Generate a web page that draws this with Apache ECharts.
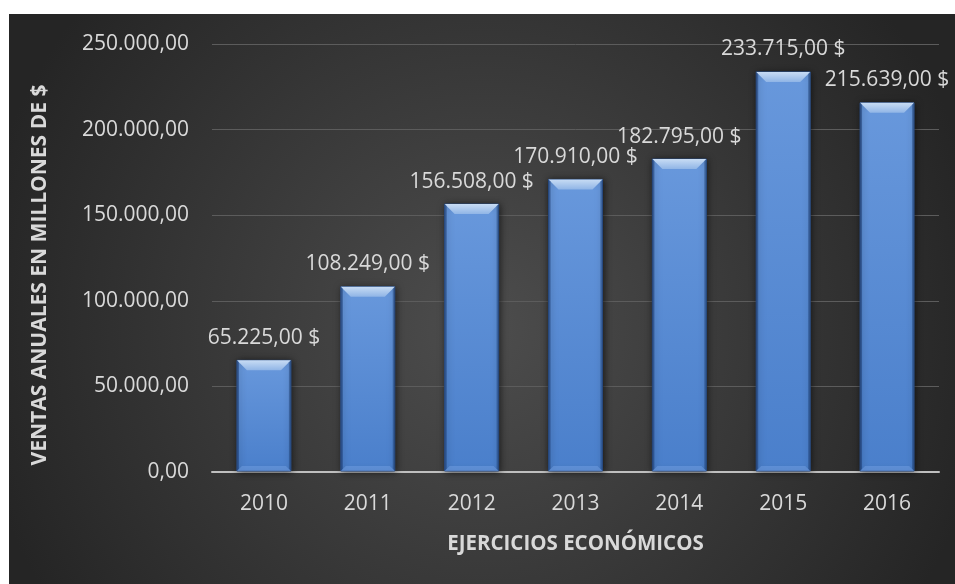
<!DOCTYPE html>
<html>
<head>
<meta charset="utf-8">
<script src="https://cdn.jsdelivr.net/npm/echarts@6/dist/echarts.min.js"></script>
<style>
  html, body { margin: 0; padding: 0; background: #ffffff; }
  #chart { width: 955px; height: 584px; }
</style>
</head>
<body>
<div id="chart"></div>
<script>
// Annual sales by fiscal year (millions of $)
const years = ['2010', '2011', '2012', '2013', '2014', '2015', '2016'];
const sales = [65225, 108249, 156508, 170910, 182795, 233715, 215639];
const yTicks = [0, 50000, 100000, 150000, 200000, 250000];

const FONT = '"Open Sans", sans-serif';
const TEXT = '#d9d9d9';

// Spanish number format: 233715 -> "233.715,00"
function fmtEs(v) {
  const s = Math.round(v).toString().replace(/\B(?=(\d{3})+(?!\d))/g, '.');
  return s + ',00';
}

const chart = echarts.init(document.getElementById('chart'), null, { renderer: 'canvas' });

// Bevelled column with its value label above
function renderBevelBar(params, api) {
  const cat = api.value(0);
  const val = api.value(1);
  const top = api.coord([cat, val]);
  const base = api.coord([cat, 0]);
  const w = api.size([1, 0])[0] * 0.52;
  const l = top[0] - w / 2, r = top[0] + w / 2;
  const t = top[1], b = base[1] - 1;
  const bv = 10;  // top bevel depth
  const sv = 2;   // side bevel
  const bb = 5;   // bottom bevel
  return {
    type: 'group',
    children: [
      {
        type: 'rect',
        shape: { x: l, y: t, width: w, height: b - t },
        style: {
          fill: new echarts.graphic.LinearGradient(0, 0, 0, 1, [
            { offset: 0, color: '#6898dc' },
            { offset: 1, color: '#4a7fcb' }
          ]),
          stroke: '#2c4f86', lineWidth: 1,
          shadowBlur: 7, shadowColor: 'rgba(0,0,0,0.6)', shadowOffsetX: 1, shadowOffsetY: 1
        }
      },
      {
        // lighter top facet
        type: 'polygon',
        shape: { points: [[l, t], [r, t], [r - bv, t + bv], [l + bv, t + bv]] },
        style: {
          fill: new echarts.graphic.LinearGradient(0, 0, 0, 1, [
            { offset: 0, color: '#c8dcf4' },
            { offset: 1, color: '#90b5e6' }
          ])
        }
      },
      {
        // left facet
        type: 'polygon',
        shape: { points: [[l, t], [l + sv, t + sv], [l + sv, b - sv], [l, b]] },
        style: { fill: 'rgba(25,55,105,0.55)' }
      },
      {
        // right facet
        type: 'polygon',
        shape: { points: [[r, t], [r - sv, t + sv], [r - sv, b - sv], [r, b]] },
        style: { fill: 'rgba(25,55,105,0.45)' }
      },
      {
        // bottom facet
        type: 'polygon',
        shape: { points: [[l, b], [r, b], [r - bb, b - bb], [l + bb, b - bb]] },
        style: { fill: 'rgba(120,165,230,0.45)' }
      },
      {
        type: 'text',
        style: {
          x: top[0], y: t - 12,
          text: fmtEs(val) + ' $',
          fill: TEXT, font: '21px ' + FONT,
          textAlign: 'center', textVerticalAlign: 'bottom'
        }
      }
    ]
  };
}

chart.setOption({
  backgroundColor: '#ffffff',
  animation: false,
  graphic: [
    {
      type: 'rect',
      left: 9, top: 14, z: -10,
      shape: { width: 946, height: 570 },
      style: {
        fill: new echarts.graphic.RadialGradient(0.5, 0.55, 0.9, [
          { offset: 0, color: '#4d4d4d' },
          { offset: 1, color: '#252525' }
        ])
      }
    },
    {
      type: 'text',
      x: 40, y: 275, rotation: Math.PI / 2,
      style: {
        text: 'VENTAS ANUALES EN MILLONES DE $',
        fill: TEXT, font: 'bold 21px ' + FONT,
        textAlign: 'center', textVerticalAlign: 'middle'
      }
    }
  ],
  grid: { left: 212, right: 16, top: 44, bottom: 112 },
  xAxis: {
    type: 'category',
    data: years,
    name: 'EJERCICIOS ECONÓMICOS',
    nameLocation: 'middle',
    nameGap: 62,
    nameTextStyle: { color: TEXT, fontFamily: FONT, fontSize: 20.5, fontWeight: 'bold' },
    axisLine: { lineStyle: { color: '#bfbfbf', width: 2 } },
    axisTick: { show: false },
    axisLabel: { color: TEXT, fontFamily: FONT, fontSize: 21, margin: 22 }
  },
  yAxis: {
    type: 'value',
    min: yTicks[0],
    max: yTicks[yTicks.length - 1],
    interval: yTicks[1] - yTicks[0],
    axisLine: { show: false },
    axisTick: { show: false },
    splitLine: { lineStyle: { color: '#5c5c5c', width: 1 } },
    axisLabel: { color: TEXT, fontFamily: FONT, fontSize: 21, margin: 23, formatter: fmtEs }
  },
  series: [{
    type: 'custom',
    renderItem: renderBevelBar,
    data: sales.map((v, i) => [i, v]),
    encode: { x: 0, y: 1 },
    z: 5
  }]
});
</script>
</body>
</html>
